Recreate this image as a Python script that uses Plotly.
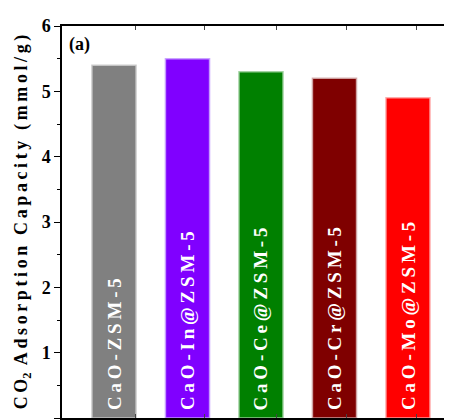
import plotly.graph_objects as go

categories = ["CaO-ZSM-5", "CaO-In@ZSM-5", "CaO-Ce@ZSM-5", "CaO-Cr@ZSM-5", "CaO-Mo@ZSM-5"]
capacity = [5.4, 5.5, 5.3, 5.2, 4.9]
colors = ["#808080", "#8000FF", "#008000", "#7F0000", "#FF0000"]
edge_colors = ["rgba(200,200,200,0.9)", "rgba(200,160,255,0.9)", "rgba(160,210,160,0.9)",
               "rgba(210,170,170,0.9)", "rgba(255,170,170,0.9)"]
y_ticks = [0, 1, 2, 3, 4, 5, 6]
x_ticks = [1.286, 2.238, 3.213, 4.166, 5.118]

FONT = "Liberation Serif"
sp = "\u2009"

def spaced(s, gap):
    return gap.join(list(s))

positions = list(range(1, len(categories) + 1))

fig = go.Figure()
fig.add_trace(go.Bar(
    x=positions, y=capacity, width=0.6,
    marker=dict(color=colors, line=dict(color=edge_colors, width=1.5)),
    hoverinfo="skip",
))

annotations = [dict(text="<b>(a)</b>", xref="paper", yref="paper", x=0.012, y=0.985,
                    xanchor="left", yanchor="top", showarrow=False,
                    font=dict(family=FONT, size=18, color="black"))]
for p, c in zip(positions, categories):
    annotations.append(dict(
        text="<b>" + spaced(c, sp) + "</b>", x=p, y=0, xref="x", yref="y",
        xanchor="center", yanchor="bottom", yshift=6, textangle=-90, showarrow=False,
        font=dict(family=FONT, size=19, color="white")))

title_txt = ("<b>" + spaced("CO", sp) + "<sub>2</sub>" + sp + sp +
             spaced("Adsorption", sp) + sp + sp + sp + spaced("Capacity", sp) +
             sp + sp + sp + spaced("(mmol/g)", sp) + "</b>")

fig.update_layout(
    width=452, height=420,
    margin=dict(l=54, r=8, t=11, b=10),
    plot_bgcolor="white", paper_bgcolor="white",
    showlegend=False,
    font=dict(family=FONT, color="black"),
    xaxis=dict(range=[0.2925, 5.599], tickmode="array", tickvals=x_ticks,
               ticktext=["" for _ in x_ticks], ticks="inside", ticklen=4,
               tickcolor="#444", showline=True, linecolor="black", linewidth=1.5,
               mirror="ticks", showgrid=False, zeroline=False),
    yaxis=dict(range=[0, 6], tickmode="array", tickvals=y_ticks,
               ticktext=["<b>%d</b>" % v for v in y_ticks], ticks="outside",
               ticklen=6, tickwidth=1.2, tickcolor="black",
               minor=dict(ticks="outside", ticklen=3, dtick=0.5, tickcolor="black"),
               tickfont=dict(family=FONT, size=18, color="black"),
               showline=True, linecolor="black", linewidth=1.5,
               showgrid=False, zeroline=False,
               title=dict(text=title_txt,
                          font=dict(family=FONT, size=18, color="black"), standoff=9)),
    annotations=annotations,
)

fig.write_html("out.html")
